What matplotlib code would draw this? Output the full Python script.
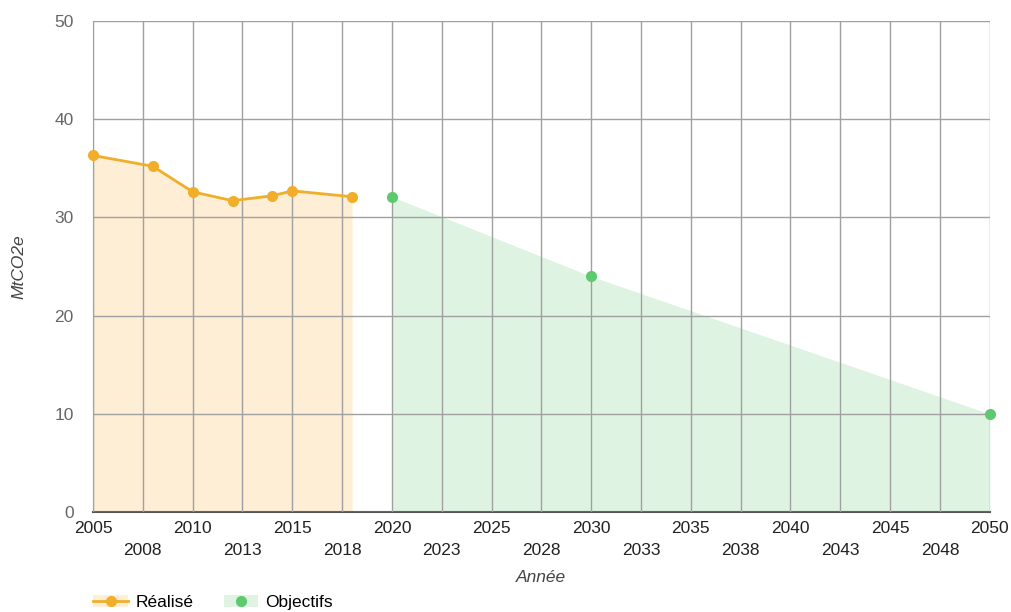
import matplotlib.pyplot as plt
from matplotlib.lines import Line2D
from matplotlib.patches import Patch

plt.rcParams['font.family'] = ['Liberation Sans', 'DejaVu Sans']

realise_years = [2005, 2008, 2010, 2012, 2014, 2015, 2018]
realise_values = [36.3, 35.2, 32.6, 31.7, 32.2, 32.7, 32.1]
objectif_years = [2020, 2030, 2050]
objectif_values = [32.1, 24.0, 10.0]

tick_positions = [2005 + 2.5 * i for i in range(19)]
tick_labels = ["2005", "2008", "2010", "2013", "2015", "2018", "2020", "2023", "2025",
               "2028", "2030", "2033", "2035", "2038", "2040", "2043", "2045", "2048", "2050"]

orange = "#f0ae2a"
orange_fill = "#fdeed5"
green = "#5ec96e"
green_fill = "#dff3e3"
fs = 12.5

fig = plt.figure(figsize=(10.11, 6.12), dpi=100)
ax = fig.add_axes([0.092, 0.163, 0.887, 0.803])

ax.fill_between(realise_years, realise_values, 0, color=orange_fill, linewidth=0, zorder=1)
ax.plot(realise_years, realise_values, color=orange, linewidth=2, marker="o",
        markersize=7, zorder=4, clip_on=False)
ax.fill_between(objectif_years, objectif_values, 0, color=green_fill, linewidth=0, zorder=1)
ax.plot(objectif_years, objectif_values, linestyle="none", color=green, marker="o",
        markersize=7, zorder=4, clip_on=False)

ax.set_xlim(2005, 2050)
ax.set_ylim(0, 50)
ax.set_xticks(tick_positions)
ax.set_xticklabels([("\n" + t) if i % 2 else t for i, t in enumerate(tick_labels)],
                   fontsize=fs, color="#222222", linespacing=1.6)
ax.set_yticks(range(0, 51, 10))
ax.tick_params(axis="y", labelsize=fs, labelcolor="#666666", length=0, pad=14)
ax.tick_params(axis="x", length=0, pad=6)
ax.grid(True, color="#a0a0a0", linewidth=1.0, zorder=2)
ax.set_axisbelow(False)
for side in ["top", "right"]:
    ax.spines[side].set_visible(False)
ax.spines["left"].set_color("#a0a0a0")
ax.spines["bottom"].set_color("#555555")
ax.spines["bottom"].set_linewidth(1.5)

ax.set_xlabel("Année", fontsize=fs, style="italic", color="#444444", labelpad=9)
ax.set_ylabel("MtCO2e", fontsize=fs, style="italic", color="#444444", labelpad=20)

h1 = (Patch(facecolor=orange_fill, edgecolor="none"),
      Line2D([], [], color=orange, linewidth=2, marker="o", markersize=7))
h2 = (Patch(facecolor=green_fill, edgecolor="none"),
      Line2D([], [], color=green, linestyle="none", marker="o", markersize=7))
fig.legend([h1, h2], ["Réalisé", "Objectifs"], loc="center left",
           bbox_to_anchor=(0.077, 0.016), ncol=2, frameon=False, fontsize=fs,
           handlelength=2.0, handletextpad=0.4, columnspacing=1.75)

fig.savefig("out.png", dpi=100)
